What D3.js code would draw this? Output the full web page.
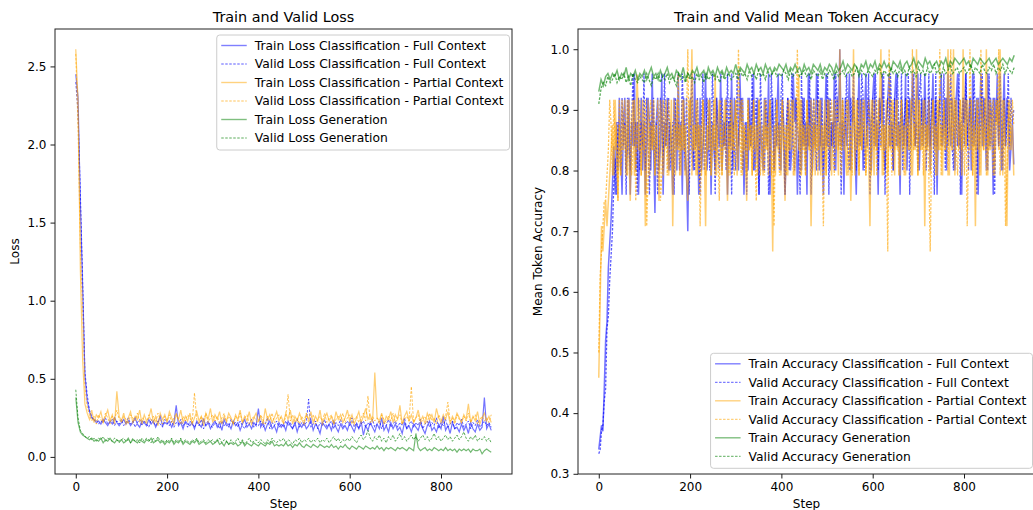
<!DOCTYPE html>
<html>
<head>
<meta charset="utf-8">
<script src="https://cdn.jsdelivr.net/npm/d3@7"></script>
<style>
    body { margin: 0; background: #fff; }
    svg text { font-family: "DejaVu Sans", sans-serif; fill: #000; }
</style>
</head>
<body>
<svg id="chart" width="1033" height="510"></svg>
<script>
// loss + generation values logged every 5 steps,
// classification accuracy every 3 steps
const loss_every = 5;
const cls_acc_every = 3;
// partial context accuracies come in 1/24ths (tokens correct out of 24)
const partial_tokens = 24;

const train_loss_full = [
    2.45, 2.30, 1.62, 1.08, 0.52, 0.36, 0.29, 0.25, 0.24, 0.22,
    0.23, 0.21, 0.24, 0.22, 0.20, 0.23, 0.21, 0.25, 0.22, 0.20,
    0.22, 0.24, 0.21, 0.23, 0.20, 0.22, 0.25, 0.21, 0.19, 0.23,
    0.22, 0.20, 0.24, 0.21, 0.23, 0.19, 0.22, 0.26, 0.20, 0.22,
    0.21, 0.23, 0.19, 0.22, 0.33, 0.20, 0.22, 0.18, 0.23, 0.21,
    0.20, 0.22, 0.18, 0.23, 0.21, 0.19, 0.24, 0.20, 0.22, 0.18,
    0.21, 0.23, 0.19, 0.22, 0.17, 0.24, 0.20, 0.21, 0.18, 0.23,
    0.20, 0.22, 0.17, 0.21, 0.24, 0.19, 0.21, 0.18, 0.22, 0.20,
    0.31, 0.19, 0.22, 0.17, 0.21, 0.23, 0.18, 0.20, 0.16, 0.22,
    0.19, 0.21, 0.17, 0.23, 0.20, 0.18, 0.22, 0.16, 0.21, 0.19,
    0.22, 0.18, 0.20, 0.24, 0.17, 0.21, 0.19, 0.15, 0.22, 0.20,
    0.18, 0.21, 0.17, 0.23, 0.19, 0.16, 0.21, 0.18, 0.20, 0.17,
    0.22, 0.19, 0.16, 0.21, 0.18, 0.23, 0.14, 0.20, 0.17, 0.22,
    0.19, 0.16, 0.21, 0.18, 0.25, 0.17, 0.20, 0.16, 0.22, 0.18,
    0.21, 0.17, 0.19, 0.15, 0.22, 0.18, 0.20, 0.16, 0.21, 0.19,
    0.17, 0.22, 0.18, 0.15, 0.20, 0.23, 0.17, 0.19, 0.16, 0.21,
    0.18, 0.26, 0.17, 0.20, 0.15, 0.22, 0.18, 0.19, 0.16, 0.21,
    0.17, 0.20, 0.15, 0.22, 0.18, 0.16, 0.21, 0.17, 0.19, 0.38,
    0.18, 0.21, 0.17
];
const valid_loss_full = [
    2.40, 2.20, 1.70, 1.15, 0.55, 0.40, 0.30, 0.26, 0.23, 0.24,
    0.21, 0.23, 0.22, 0.25, 0.21, 0.22, 0.24, 0.20, 0.23, 0.21,
    0.24, 0.20, 0.22, 0.25, 0.21, 0.23, 0.19, 0.22, 0.24, 0.20,
    0.23, 0.21, 0.19, 0.24, 0.22, 0.20, 0.23, 0.21, 0.19, 0.24,
    0.22, 0.20, 0.23, 0.19, 0.22, 0.21, 0.24, 0.20, 0.22, 0.19,
    0.23, 0.21, 0.19, 0.22, 0.20, 0.24, 0.18, 0.21, 0.23, 0.20,
    0.19, 0.22, 0.21, 0.18, 0.23, 0.20, 0.22, 0.19, 0.24, 0.21,
    0.22, 0.19, 0.23, 0.20, 0.18, 0.22, 0.21, 0.24, 0.19, 0.21,
    0.20, 0.23, 0.19, 0.21, 0.25, 0.18, 0.22, 0.20, 0.23, 0.19,
    0.21, 0.19, 0.23, 0.20, 0.22, 0.18, 0.21, 0.24, 0.19, 0.22,
    0.20, 0.22, 0.37, 0.19, 0.21, 0.23, 0.18, 0.22, 0.20, 0.24,
    0.19, 0.21, 0.23, 0.18, 0.22, 0.20, 0.24, 0.19, 0.21, 0.23,
    0.20, 0.25, 0.19, 0.22, 0.18, 0.21, 0.23, 0.19, 0.22, 0.20,
    0.24, 0.19, 0.21, 0.23, 0.18, 0.22, 0.20, 0.24, 0.19, 0.21,
    0.23, 0.19, 0.22, 0.20, 0.25, 0.18, 0.21, 0.23, 0.19, 0.22,
    0.20, 0.24, 0.18, 0.21, 0.23, 0.19, 0.22, 0.20, 0.25, 0.18,
    0.22, 0.20, 0.24, 0.19, 0.21, 0.23, 0.18, 0.22, 0.20, 0.24,
    0.19, 0.21, 0.23, 0.18, 0.22, 0.20, 0.24, 0.19, 0.21, 0.23,
    0.20, 0.22, 0.19
];
const train_loss_partial = [
    2.61, 2.28, 1.20, 0.62, 0.34, 0.28, 0.24, 0.30, 0.22, 0.27,
    0.25, 0.29, 0.22, 0.26, 0.30, 0.23, 0.27, 0.21, 0.42, 0.26,
    0.23, 0.28, 0.21, 0.25, 0.29, 0.22, 0.26, 0.24, 0.30, 0.21,
    0.27, 0.23, 0.25, 0.31, 0.22, 0.26, 0.20, 0.28, 0.24, 0.27,
    0.22, 0.29, 0.25, 0.21, 0.27, 0.24, 0.30, 0.22, 0.26, 0.23,
    0.28, 0.21, 0.25, 0.29, 0.23, 0.26, 0.20, 0.28, 0.24, 0.31,
    0.22, 0.27, 0.24, 0.29, 0.21, 0.26, 0.23, 0.28, 0.25, 0.21,
    0.27, 0.24, 0.30, 0.22, 0.26, 0.23, 0.29, 0.21, 0.25, 0.28,
    0.23, 0.26, 0.21, 0.31, 0.24, 0.27, 0.22, 0.25, 0.29, 0.23,
    0.26, 0.22, 0.28, 0.24, 0.30, 0.21, 0.26, 0.23, 0.28, 0.24,
    0.21, 0.27, 0.24, 0.29, 0.22, 0.26, 0.23, 0.30, 0.21, 0.25,
    0.28, 0.23, 0.26, 0.21, 0.29, 0.24, 0.27, 0.22, 0.25, 0.30,
    0.23, 0.27, 0.21, 0.25, 0.29, 0.22, 0.26, 0.31, 0.24, 0.27,
    0.22, 0.54, 0.25, 0.23, 0.28, 0.21, 0.26, 0.24, 0.29, 0.22,
    0.27, 0.24, 0.33, 0.21, 0.26, 0.29, 0.23, 0.27, 0.22, 0.25,
    0.30, 0.23, 0.26, 0.21, 0.28, 0.24, 0.27, 0.22, 0.31, 0.25,
    0.22, 0.27, 0.24, 0.29, 0.21, 0.26, 0.23, 0.28, 0.25, 0.22,
    0.27, 0.24, 0.34, 0.22, 0.26, 0.23, 0.29, 0.21, 0.25, 0.28,
    0.23, 0.26, 0.22
];
const valid_loss_partial = [
    2.58, 2.10, 1.35, 0.95, 0.45, 0.32, 0.27, 0.23, 0.26, 0.21,
    0.27, 0.24, 0.22, 0.28, 0.25, 0.21, 0.26, 0.23, 0.30, 0.24,
    0.22, 0.26, 0.24, 0.21, 0.27, 0.25, 0.23, 0.28, 0.22, 0.25,
    0.24, 0.21, 0.27, 0.23, 0.26, 0.22, 0.28, 0.24, 0.21, 0.26,
    0.23, 0.27, 0.22, 0.25, 0.28, 0.24, 0.21, 0.26, 0.23, 0.27,
    0.25, 0.22, 0.41, 0.24, 0.21, 0.26, 0.23, 0.28, 0.22, 0.25,
    0.27, 0.23, 0.26, 0.21, 0.25, 0.28, 0.22, 0.26, 0.24, 0.21,
    0.26, 0.23, 0.28, 0.22, 0.25, 0.27, 0.21, 0.24, 0.26, 0.23,
    0.22, 0.27, 0.24, 0.21, 0.26, 0.23, 0.28, 0.22, 0.25, 0.27,
    0.24, 0.21, 0.26, 0.40, 0.23, 0.27, 0.22, 0.25, 0.21, 0.26,
    0.23, 0.28, 0.22, 0.25, 0.27, 0.21, 0.24, 0.26, 0.23, 0.28,
    0.22, 0.25, 0.27, 0.21, 0.24, 0.26, 0.23, 0.28, 0.22, 0.25,
    0.27, 0.21, 0.24, 0.26, 0.22, 0.25, 0.28, 0.23, 0.39, 0.22,
    0.26, 0.23, 0.25, 0.21, 0.27, 0.24, 0.22, 0.26, 0.23, 0.28,
    0.22, 0.25, 0.27, 0.21, 0.24, 0.26, 0.23, 0.45, 0.22, 0.25,
    0.27, 0.21, 0.24, 0.26, 0.22, 0.28, 0.23, 0.25, 0.21, 0.27,
    0.24, 0.22, 0.26, 0.35, 0.23, 0.25, 0.21, 0.27, 0.24, 0.22,
    0.26, 0.23, 0.28, 0.22, 0.25, 0.27, 0.21, 0.24, 0.26, 0.23,
    0.25, 0.22, 0.27
];
const train_loss_gen = [
    0.38, 0.22, 0.16, 0.14, 0.13, 0.12, 0.11, 0.12, 0.10, 0.11,
    0.10, 0.12, 0.09, 0.11, 0.10, 0.12, 0.10, 0.09, 0.11, 0.10,
    0.11, 0.09, 0.10, 0.12, 0.09, 0.11, 0.10, 0.09, 0.11, 0.10,
    0.09, 0.11, 0.10, 0.12, 0.09, 0.10, 0.11, 0.09, 0.10, 0.08,
    0.10, 0.09, 0.11, 0.08, 0.10, 0.09, 0.11, 0.08, 0.10, 0.09,
    0.08, 0.10, 0.09, 0.11, 0.08, 0.09, 0.10, 0.08, 0.09, 0.10,
    0.08, 0.09, 0.11, 0.08, 0.09, 0.07, 0.10, 0.08, 0.09, 0.08,
    0.09, 0.07, 0.08, 0.10, 0.07, 0.09, 0.08, 0.07, 0.09, 0.08,
    0.07, 0.09, 0.08, 0.07, 0.09, 0.08, 0.10, 0.07, 0.08, 0.07,
    0.08, 0.07, 0.09, 0.07, 0.08, 0.06, 0.08, 0.07, 0.09, 0.07,
    0.06, 0.08, 0.07, 0.06, 0.08, 0.07, 0.06, 0.08, 0.07, 0.06,
    0.07, 0.06, 0.08, 0.06, 0.07, 0.05, 0.07, 0.06, 0.08, 0.06,
    0.05, 0.07, 0.06, 0.05, 0.07, 0.06, 0.05, 0.07, 0.06, 0.05,
    0.06, 0.05, 0.07, 0.05, 0.06, 0.04, 0.06, 0.05, 0.06, 0.05,
    0.04, 0.06, 0.05, 0.06, 0.05, 0.04, 0.06, 0.05, 0.04, 0.15,
    0.06, 0.04, 0.05, 0.06, 0.04, 0.05, 0.04, 0.06, 0.05, 0.04,
    0.05, 0.04, 0.06, 0.04, 0.05, 0.04, 0.05, 0.03, 0.05, 0.04,
    0.05, 0.04, 0.05, 0.03, 0.05, 0.04, 0.04, 0.05, 0.02, 0.04,
    0.05, 0.04, 0.03
];
const valid_loss_gen = [
    0.43, 0.25, 0.17, 0.15, 0.13, 0.12, 0.13, 0.11, 0.12, 0.10,
    0.12, 0.11, 0.13, 0.10, 0.12, 0.11, 0.10, 0.12, 0.11, 0.09,
    0.11, 0.12, 0.10, 0.11, 0.09, 0.12, 0.10, 0.11, 0.09, 0.12,
    0.10, 0.12, 0.11, 0.09, 0.12, 0.10, 0.13, 0.10, 0.11, 0.09,
    0.11, 0.10, 0.12, 0.09, 0.11, 0.10, 0.12, 0.09, 0.11, 0.10,
    0.09, 0.11, 0.10, 0.12, 0.09, 0.10, 0.11, 0.09, 0.11, 0.10,
    0.11, 0.09, 0.10, 0.12, 0.09, 0.11, 0.10, 0.08, 0.11, 0.09,
    0.10, 0.12, 0.09, 0.11, 0.08, 0.10, 0.12, 0.09, 0.10, 0.11,
    0.09, 0.11, 0.10, 0.08, 0.11, 0.09, 0.12, 0.10, 0.09, 0.11,
    0.10, 0.12, 0.09, 0.11, 0.10, 0.08, 0.11, 0.10, 0.12, 0.09,
    0.11, 0.10, 0.12, 0.09, 0.11, 0.10, 0.12, 0.09, 0.11, 0.10,
    0.12, 0.09, 0.11, 0.13, 0.10, 0.12, 0.09, 0.11, 0.10, 0.12,
    0.10, 0.13, 0.11, 0.09, 0.12, 0.14, 0.11, 0.13, 0.17, 0.12,
    0.10, 0.13, 0.11, 0.14, 0.10, 0.12, 0.09, 0.13, 0.11, 0.14,
    0.10, 0.12, 0.15, 0.11, 0.13, 0.10, 0.12, 0.14, 0.11, 0.13,
    0.10, 0.12, 0.14, 0.11, 0.13, 0.10, 0.12, 0.15, 0.11, 0.13,
    0.10, 0.12, 0.14, 0.11, 0.13, 0.10, 0.12, 0.14, 0.11, 0.13,
    0.16, 0.12, 0.10, 0.13, 0.11, 0.14, 0.10, 0.12, 0.11, 0.13,
    0.10, 0.12, 0.09
];

const train_acc_full = [
    0.34, 0.36, 0.38, 0.37, 0.44, 0.52, 0.55, 0.64, 0.68, 0.72,
    0.78, 0.84, 0.76, 0.88, 0.80, 0.92, 0.84, 0.76, 0.88, 0.92,
    0.80, 0.84, 0.92, 0.76, 0.88, 0.84, 0.96, 0.80, 0.88, 0.76,
    0.84, 0.92, 0.80, 0.88, 0.76, 0.84, 0.92, 0.88, 0.80, 0.96,
    0.84, 0.73, 0.88, 0.92, 0.80, 0.84, 0.96, 0.76, 0.88, 0.84,
    0.92, 0.80, 0.88, 0.84, 0.76, 0.92, 0.88, 0.80, 0.96, 0.84,
    0.88, 0.76, 0.92, 0.84, 0.80, 0.70, 0.88, 0.92, 0.84, 0.80,
    0.96, 0.84, 0.88, 0.76, 0.92, 0.80, 0.84, 0.88, 0.96, 0.80,
    0.84, 0.92, 0.76, 0.88, 0.84, 0.80, 0.92, 0.88, 0.84, 0.96,
    0.80, 0.88, 0.84, 0.92, 0.76, 0.88, 0.84, 0.96, 0.80, 0.92,
    0.88, 0.84, 0.80, 0.96, 0.88, 0.92, 0.76, 0.84, 0.88, 0.80,
    0.92, 0.84, 0.88, 0.96, 0.80, 0.84, 0.92, 0.76, 0.88, 0.84,
    0.80, 0.92, 0.88, 0.84, 0.96, 0.76, 0.88, 0.92, 0.80, 0.84,
    0.88, 0.96, 0.84, 0.80, 0.92, 0.88, 0.76, 0.84, 0.92, 0.88,
    0.80, 0.84, 0.96, 0.88, 0.92, 0.76, 0.84, 0.88, 0.80, 0.92,
    0.84, 0.88, 0.76, 0.96, 0.84, 0.92, 0.80, 0.88, 0.84, 0.96,
    0.88, 0.80, 0.92, 0.84, 0.76, 0.88, 0.96, 0.84, 0.92, 0.80,
    0.88, 0.84, 0.96, 0.80, 0.92, 0.88, 1.00, 0.84, 0.88, 0.76,
    0.92, 0.84, 0.88, 0.96, 0.80, 0.88, 0.92, 0.84, 0.76, 0.88,
    0.96, 0.84, 0.92, 0.80, 0.88, 0.96, 0.84, 0.92, 0.88, 0.80,
    0.92, 0.96, 0.84, 0.88, 0.76, 0.92, 0.88, 0.96, 0.84, 0.80,
    0.88, 0.92, 0.96, 0.84, 0.88, 0.80, 0.92, 0.96, 0.84, 0.88,
    0.76, 0.92, 0.88, 0.84, 0.96, 0.80, 0.88, 0.92, 0.84, 0.96,
    0.88, 0.84, 0.92, 0.96, 0.80, 0.88, 0.92, 0.84, 0.96, 0.88,
    0.84, 0.92, 0.80, 0.88, 0.96, 0.84, 0.92, 0.76, 0.88, 0.92,
    0.96, 0.84, 0.88, 0.92, 0.80, 0.96, 0.88, 0.84, 0.92, 0.88,
    0.80, 0.92, 0.96, 0.84, 0.88, 0.76, 0.92, 0.88, 0.96, 0.84,
    0.88, 0.92, 0.80, 0.96, 0.84, 0.88, 0.92, 0.76, 0.88, 0.96,
    0.84, 0.92, 0.88, 0.80, 0.96, 0.84, 0.92, 0.88, 0.76, 0.92,
    0.88, 0.96, 0.84, 0.92, 0.80, 0.88, 0.96, 0.84, 0.92, 0.88,
    0.80, 0.84, 0.88, 0.81
];
const valid_acc_full = [
    0.333, 0.34, 0.37, 0.38, 0.42, 0.44, 0.54, 0.56, 0.62, 0.66,
    0.70, 0.78, 0.82, 0.76, 0.88, 0.84, 0.80, 0.92, 0.84, 0.88,
    0.76, 0.92, 0.84, 0.80, 0.88, 0.96, 0.84, 0.88, 0.76, 0.92,
    0.80, 0.88, 0.84, 0.96, 0.80, 0.92, 0.84, 0.76, 0.88, 0.84,
    0.92, 0.80, 0.88, 0.76, 0.84, 0.92, 0.88, 0.80, 0.96, 0.84,
    0.88, 0.92, 0.80, 0.84, 0.88, 0.76, 0.92, 0.84, 0.88, 0.80,
    0.84, 0.96, 0.88, 0.80, 0.92, 0.84, 0.76, 0.88, 0.96, 0.84,
    0.80, 0.88, 0.92, 0.84, 0.76, 0.88, 0.96, 0.80, 0.84, 0.92,
    0.88, 0.80, 0.84, 0.96, 0.88, 0.76, 0.92, 0.84, 0.80, 0.88,
    0.92, 0.84, 0.88, 0.80, 0.96, 0.84, 0.92, 0.76, 0.88, 0.84,
    0.80, 0.96, 0.84, 0.88, 0.92, 0.80, 0.84, 0.88, 0.76, 0.92,
    0.88, 0.84, 0.96, 0.80, 0.88, 0.92, 0.84, 0.76, 0.96, 0.88,
    0.84, 0.80, 0.92, 0.88, 0.76, 0.84, 0.96, 0.88, 0.80, 0.92,
    0.84, 0.88, 0.80, 0.92, 0.96, 0.84, 0.76, 0.88, 0.92, 0.80,
    0.88, 0.96, 0.84, 0.80, 0.92, 0.88, 0.84, 0.76, 0.96, 0.84,
    0.92, 0.80, 0.88, 0.84, 0.96, 0.76, 0.88, 0.92, 0.84, 0.80,
    0.96, 0.88, 0.84, 0.92, 0.80, 0.88, 0.84, 0.96, 0.76, 0.92,
    0.84, 0.88, 0.80, 0.96, 0.92, 0.84, 0.88, 0.76, 0.92, 0.84,
    0.88, 0.96, 0.84, 0.80, 0.92, 0.88, 0.96, 0.84, 0.80, 0.92,
    0.84, 0.88, 0.96, 0.92, 0.80, 0.84, 0.88, 0.96, 0.76, 0.88,
    0.92, 0.84, 0.96, 0.88, 0.80, 0.92, 0.84, 0.88, 0.96, 0.76,
    0.88, 0.92, 0.84, 0.96, 0.88, 0.80, 0.92, 0.84, 0.96, 0.88,
    0.84, 0.96, 0.80, 0.88, 0.92, 0.84, 0.96, 0.76, 0.88, 0.92,
    0.96, 0.84, 0.88, 0.80, 0.92, 0.96, 0.84, 0.88, 0.92, 0.80,
    0.88, 0.96, 0.84, 0.92, 0.88, 0.76, 0.96, 0.84, 0.88, 0.92,
    0.84, 0.88, 0.96, 0.80, 0.92, 0.84, 0.88, 0.96, 0.84, 0.80,
    0.92, 0.88, 0.84, 0.96, 0.76, 0.88, 0.92, 0.84, 0.96, 0.88,
    0.80, 0.92, 0.88, 0.84, 0.96, 0.88, 0.76, 0.92, 0.84, 0.88,
    0.96, 0.84, 0.92, 0.88, 0.80, 0.96, 0.84, 0.88, 0.92, 0.76,
    0.88, 0.92, 0.84, 0.96, 0.88, 0.80, 0.92, 0.84, 0.88, 0.96,
    0.84, 0.92, 0.88, 0.90
];
// tokens correct out of 24
const train_hits_partial = [
    11, 14, 17, 16, 17, 18, 17, 18, 19, 20,
    21, 19, 22, 20, 18, 21, 19, 22, 20, 21,
    19, 22, 20, 18, 21, 22, 19, 20, 23, 21,
    20, 19, 22, 21, 17, 20, 22, 19, 21, 20,
    22, 19, 21, 20, 18, 22, 21, 19, 20, 22,
    21, 19, 20, 22, 17, 21, 19, 22, 20, 21,
    19, 22, 20, 21, 19, 18, 22, 21, 24, 20,
    21, 19, 22, 20, 21, 19, 22, 20, 17, 21,
    20, 22, 19, 21, 20, 23, 19, 21, 22, 20,
    19, 21, 22, 20, 18, 21, 19, 22, 20, 21,
    22, 19, 20, 21, 22, 19, 21, 20, 18, 22,
    20, 21, 19, 22, 20, 21, 19, 22, 21, 20,
    19, 22, 20, 21, 19, 22, 20, 16, 21, 19,
    22, 20, 21, 19, 22, 20, 18, 21, 19, 22,
    20, 21, 22, 19, 20, 21, 23, 19, 22, 20,
    21, 19, 22, 20, 21, 17, 20, 22, 19, 21,
    20, 22, 19, 21, 20, 22, 19, 21, 22, 20,
    19, 21, 22, 20, 21, 19, 24, 20, 22, 21,
    20, 19, 22, 21, 18, 20, 24, 19, 22, 21,
    19, 22, 20, 21, 22, 19, 21, 20, 17, 22,
    21, 19, 22, 20, 21, 22, 24, 19, 21, 20,
    22, 19, 21, 20, 22, 21, 19, 22, 20, 21,
    19, 22, 20, 21, 19, 22, 21, 20, 22, 19,
    21, 20, 24, 19, 22, 21, 20, 22, 17, 21,
    20, 22, 19, 21, 22, 20, 21, 19, 22, 20,
    21, 19, 22, 20, 21, 24, 19, 22, 20, 24,
    19, 22, 21, 20, 22, 19, 24, 21, 20, 22,
    21, 20, 22, 19, 21, 17, 22, 20, 21, 19,
    22, 20, 21, 24, 19, 22, 20, 21, 22, 19,
    21, 22, 20, 24, 21, 19, 22, 20, 17, 21,
    22, 20, 21, 19
];
const valid_hits_partial = [
    12, 15, 16, 17, 18, 18, 19, 20, 22, 21,
    19, 22, 20, 21, 18, 22, 19, 20, 21, 22,
    20, 19, 22, 21, 19, 20, 22, 18, 21, 20,
    22, 19, 21, 20, 22, 17, 19, 21, 22, 20,
    21, 19, 20, 22, 21, 18, 19, 22, 20, 21,
    19, 22, 21, 20, 19, 22, 21, 20, 23, 19,
    21, 20, 22, 19, 21, 24, 20, 22, 19, 21,
    20, 22, 19, 21, 17, 20, 22, 21, 19, 20,
    22, 21, 19, 20, 22, 19, 21, 20, 18, 22,
    19, 21, 20, 22, 21, 19, 22, 20, 21, 19,
    22, 20, 24, 21, 19, 22, 20, 21, 19, 22,
    20, 21, 19, 22, 20, 18, 21, 22, 19, 20,
    21, 19, 22, 20, 21, 22, 19, 20, 17, 21,
    22, 20, 19, 21, 22, 20, 21, 19, 22, 20,
    21, 22, 19, 20, 21, 24, 20, 22, 19, 21,
    20, 19, 22, 21, 20, 22, 19, 21, 20, 22,
    19, 21, 22, 20, 17, 21, 19, 22, 20, 21,
    22, 20, 19, 21, 22, 20, 21, 19, 22, 20,
    21, 22, 19, 20, 21, 19, 22, 21, 20, 22,
    19, 21, 20, 22, 21, 19, 20, 22, 21, 19,
    22, 20, 21, 19, 22, 21, 20, 22, 19, 21,
    20, 16, 24, 21, 19, 22, 20, 21, 22, 19,
    21, 22, 20, 19, 21, 22, 20, 21, 19, 24,
    20, 22, 21, 19, 22, 20, 21, 19, 22, 20,
    21, 19, 16, 20, 22, 21, 19, 22, 20, 24,
    19, 21, 22, 20, 21, 19, 22, 24, 20, 21,
    22, 20, 19, 21, 22, 20, 21, 19, 22, 17,
    20, 24, 21, 19, 22, 20, 21, 22, 19, 24,
    21, 20, 22, 19, 21, 20, 22, 21, 19, 20,
    22, 21, 24, 19, 20, 22, 21, 17, 19, 22,
    20, 21, 22, 21
];
const train_acc_gen = [
    0.93, 0.95, 0.94, 0.955, 0.96, 0.95, 0.96, 0.955, 0.965, 0.95,
    0.96, 0.955, 0.97, 0.95, 0.96, 0.955, 0.965, 0.95, 0.96, 0.955,
    0.965, 0.95, 0.96, 0.97, 0.955, 0.96, 0.95, 0.965, 0.955, 0.96,
    0.97, 0.955, 0.96, 0.95, 0.965, 0.96, 0.955, 0.97, 0.95, 0.96,
    0.955, 0.965, 0.96, 0.97, 0.955, 0.96, 0.965, 0.95, 0.97, 0.96,
    0.965, 0.955, 0.97, 0.96, 0.965, 0.955, 0.97, 0.96, 0.965, 0.96,
    0.975, 0.96, 0.97, 0.965, 0.96, 0.975, 0.965, 0.97, 0.96, 0.975,
    0.965, 0.97, 0.96, 0.975, 0.965, 0.97, 0.96, 0.97, 0.965, 0.975,
    0.97, 0.965, 0.975, 0.96, 0.97, 0.965, 0.975, 0.965, 0.97, 0.96,
    0.975, 0.965, 0.97, 0.96, 0.975, 0.97, 0.965, 0.975, 0.96, 0.97,
    0.965, 0.975, 0.97, 0.96, 0.975, 0.965, 0.97, 0.98, 0.965, 0.975,
    0.97, 0.965, 0.975, 0.97, 0.96, 0.975, 0.97, 0.98, 0.965, 0.975,
    0.97, 0.98, 0.965, 0.975, 0.97, 0.98, 0.97, 0.975, 0.965, 0.98,
    0.975, 0.97, 0.98, 0.965, 0.975, 0.98, 0.97, 0.975, 0.985, 0.97,
    0.98, 0.975, 0.97, 0.985, 0.975, 0.98, 0.97, 0.975, 0.98, 0.97,
    0.98, 0.975, 0.985, 0.97, 0.98, 0.975, 0.985, 0.98, 0.975, 0.98,
    0.985, 0.975, 0.98, 0.97, 0.985, 0.98, 0.975, 0.985, 0.98, 0.975,
    0.98, 0.985, 0.975, 0.98, 0.985, 0.975, 0.98, 0.985, 0.98, 0.975,
    0.985, 0.98, 0.99
];
const valid_acc_gen = [
    0.91, 0.935, 0.945, 0.94, 0.955, 0.945, 0.95, 0.96, 0.945, 0.955,
    0.95, 0.96, 0.945, 0.955, 0.94, 0.96, 0.95, 0.945, 0.955, 0.95,
    0.945, 0.96, 0.95, 0.94, 0.955, 0.95, 0.96, 0.945, 0.955, 0.95,
    0.96, 0.945, 0.955, 0.95, 0.94, 0.96, 0.95, 0.955, 0.945, 0.96,
    0.95, 0.955, 0.945, 0.96, 0.95, 0.955, 0.945, 0.96, 0.95, 0.955,
    0.96, 0.95, 0.955, 0.945, 0.96, 0.95, 0.955, 0.96, 0.95, 0.955,
    0.96, 0.95, 0.965, 0.955, 0.96, 0.95, 0.965, 0.955, 0.96, 0.95,
    0.965, 0.955, 0.96, 0.95, 0.965, 0.955, 0.96, 0.965, 0.955, 0.96,
    0.955, 0.965, 0.96, 0.95, 0.965, 0.955, 0.96, 0.965, 0.955, 0.96,
    0.965, 0.955, 0.96, 0.95, 0.965, 0.96, 0.955, 0.965, 0.95, 0.96,
    0.955, 0.965, 0.96, 0.95, 0.965, 0.955, 0.96, 0.965, 0.955, 0.96,
    0.965, 0.955, 0.96, 0.97, 0.955, 0.965, 0.96, 0.955, 0.965, 0.96,
    0.955, 0.965, 0.96, 0.97, 0.955, 0.965, 0.96, 0.955, 0.97, 0.96,
    0.965, 0.955, 0.97, 0.96, 0.965, 0.955, 0.97, 0.96, 0.965, 0.955,
    0.97, 0.96, 0.965, 0.955, 0.97, 0.96, 0.965, 0.975, 0.96, 0.965,
    0.955, 0.97, 0.96, 0.965, 0.975, 0.96, 0.965, 0.97, 0.96, 0.965,
    0.97, 0.96, 0.965, 0.975, 0.96, 0.97, 0.965, 0.96, 0.975, 0.965,
    0.96, 0.97, 0.965, 0.975, 0.96, 0.97, 0.965, 0.975, 0.96, 0.97,
    0.965, 0.96, 0.97
];

const loss_labels = [
    'Train Loss Classification - Full Context',
    'Valid Loss Classification - Full Context',
    'Train Loss Classification - Partial Context',
    'Valid Loss Classification - Partial Context',
    'Train Loss Generation',
    'Valid Loss Generation'
];
const acc_labels = [
    'Train Accuracy Classification - Full Context',
    'Valid Accuracy Classification - Full Context',
    'Train Accuracy Classification - Partial Context',
    'Valid Accuracy Classification - Partial Context',
    'Train Accuracy Generation',
    'Valid Accuracy Generation'
];
const step_ticks = [0, 200, 400, 600, 800];
const loss_ticks = [0, 0.5, 1, 1.5, 2, 2.5];
const acc_ticks = [0.3, 0.4, 0.5, 0.6, 0.7, 0.8, 0.9, 1.0];

// colour / dash for each of the 6 series, same order as the labels
const styles = [
    {color: 'blue', dash: null},
    {color: 'blue', dash: '2.5,1.5'},
    {color: 'orange', dash: null},
    {color: 'orange', dash: '2.5,1.5'},
    {color: 'green', dash: null},
    {color: 'green', dash: '2.5,1.5'}
];

const svg = d3.select('#chart');
const top_y = 29, bottom_y = 474;

// matplotlib style 5% margins
function padded(lo, hi) {
    let r = hi - lo;
    return [lo - r * 0.05, hi + r * 0.05];
}

function drawPanel(id, left_x, right_x, series, labels, y_ticks, title, y_label, legend_top, line_w) {
    let last_step = d3.max(series, s => (s.values.length - 1) * s.every);
    let all = series.flatMap(s => s.values);

    let x = d3.scaleLinear()
        .domain(padded(0, last_step))
        .range([left_x, right_x]);
    let y = d3.scaleLinear()
        .domain(padded(d3.min(all), d3.max(all)))
        .range([bottom_y, top_y]);

    let g = svg.append('g');

    g.append('clipPath')
        .attr('id', 'clip_' + id)
        .append('rect')
        .attr('x', left_x).attr('y', top_y)
        .attr('width', right_x - left_x).attr('height', bottom_y - top_y);

    let lines_g = g.append('g').attr('clip-path', 'url(#clip_' + id + ')');
    series.forEach(function (s, k) {
        let line = d3.line()
            .x((d, i) => x(i * s.every))
            .y(d => y(d));

        lines_g.append('path')
            .datum(s.values)
            .attr('d', line)
            .attr('fill', 'none')
            .attr('stroke', styles[k].color)
            .attr('stroke-opacity', styles[k].dash ? 0.65 : 0.55)
            .attr('stroke-width', styles[k].dash ? line_w - 0.2 : line_w)
            .attr('stroke-dasharray', styles[k].dash);
    });

    // axes
    let x_axis = g.append('g')
        .attr('transform', 'translate(0,' + bottom_y + ')')
        .call(d3.axisBottom(x).tickValues(step_ticks).tickSize(4.5).tickPadding(4));
    let y_axis = g.append('g')
        .attr('transform', 'translate(' + left_x + ',0)')
        .call(d3.axisLeft(y).tickValues(y_ticks).tickFormat(d3.format('.1f')).tickSize(4.5).tickPadding(4));

    [x_axis, y_axis].forEach(function (a) {
        a.select('.domain').remove();
        a.selectAll('text').attr('font-size', 12).attr('font-family', 'DejaVu Sans');
        a.selectAll('line').attr('stroke', '#000').attr('stroke-width', 0.9);
    });

    g.append('rect')
        .attr('x', left_x).attr('y', top_y)
        .attr('width', right_x - left_x).attr('height', bottom_y - top_y)
        .attr('fill', 'none')
        .attr('stroke', '#222')
        .attr('stroke-width', 1);

    g.append('text')
        .attr('x', (left_x + right_x) / 2)
        .attr('y', 21.5)
        .attr('text-anchor', 'middle')
        .attr('font-size', 14.4)
        .text(title);

    g.append('text')
        .attr('x', (left_x + right_x) / 2)
        .attr('y', 507.5)
        .attr('text-anchor', 'middle')
        .attr('font-size', 12)
        .text('Step');

    g.append('text')
        .attr('transform', 'translate(' + (left_x - 40) + ',' + ((top_y + bottom_y) / 2) + ') rotate(-90)')
        .attr('dy', '0.35em')
        .attr('text-anchor', 'middle')
        .attr('font-size', 12)
        .text(y_label);

    // legend
    let row_h = 18.5;
    let box_h = 115;
    let box_y = legend_top ? top_y + 6 : bottom_y - 5.7 - box_h;

    let leg = g.append('g');
    let box = leg.append('rect')
        .attr('y', box_y)
        .attr('height', box_h)
        .attr('rx', 3)
        .attr('fill', '#fff')
        .attr('fill-opacity', 0.8)
        .attr('stroke', '#cccccc')
        .attr('stroke-width', 1);

    let items = leg.selectAll('g.item')
        .data(labels)
        .enter().append('g')
        .attr('class', 'item');

    let texts = items.append('text')
        .attr('y', (d, i) => box_y + 10.5 + i * row_h)
        .attr('dy', '0.35em')
        .attr('font-size', 12.3)
        .text(d => d);

    let max_w = d3.max(texts.nodes(), t => t.getComputedTextLength());
    let box_w = 38 + max_w + 6;
    let box_x = right_x - 2.5 - box_w;

    box.attr('x', box_x).attr('width', box_w);
    texts.attr('x', box_x + 38);

    items.append('line')
        .attr('x1', box_x + 4.5).attr('x2', box_x + 30)
        .attr('y1', (d, i) => box_y + 10.5 + i * row_h)
        .attr('y2', (d, i) => box_y + 10.5 + i * row_h)
        .attr('stroke', (d, i) => styles[i].color)
        .attr('stroke-opacity', (d, i) => styles[i].dash ? 0.65 : 0.5)
        .attr('stroke-width', (d, i) => styles[i].dash ? 1 : 1.4)
        .attr('stroke-dasharray', (d, i) => styles[i].dash);
}

drawPanel('loss', 55, 512, [
    {values: train_loss_full, every: loss_every},
    {values: valid_loss_full, every: loss_every},
    {values: train_loss_partial, every: loss_every},
    {values: valid_loss_partial, every: loss_every},
    {values: train_loss_gen, every: loss_every},
    {values: valid_loss_gen, every: loss_every}
], loss_labels, loss_ticks, 'Train and Valid Loss', 'Loss', true, 1.2);

drawPanel('acc', 578, 1035, [
    {values: train_acc_full, every: cls_acc_every},
    {values: valid_acc_full, every: cls_acc_every},
    {values: train_hits_partial.map(h => h / partial_tokens), every: cls_acc_every},
    {values: valid_hits_partial.map(h => h / partial_tokens), every: cls_acc_every},
    {values: train_acc_gen, every: loss_every},
    {values: valid_acc_gen, every: loss_every}
], acc_labels, acc_ticks, 'Train and Valid Mean Token Accuracy', 'Mean Token Accuracy', false, 1.5);
</script>
</body>
</html>
